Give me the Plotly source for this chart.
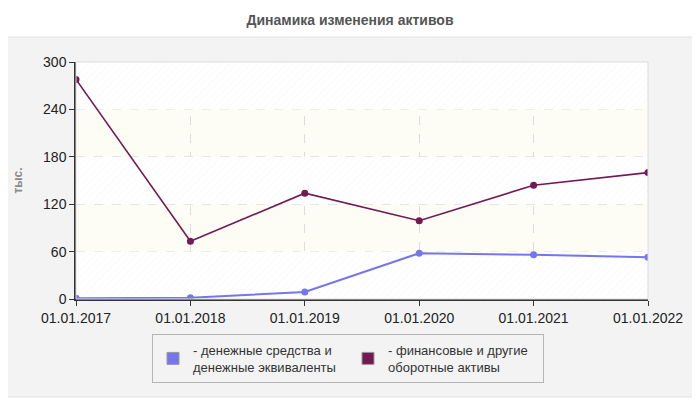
import plotly.graph_objects as go

# chart data
dates = ["01.01.2017", "01.01.2018", "01.01.2019", "01.01.2020", "01.01.2021", "01.01.2022"]
cash = [1, 1.5, 9, 58, 56, 53]
fin_assets = [278, 73, 134, 99, 144, 160]
y_ticks = [0, 60, 120, 180, 240, 300]

series_names = [
    "- денежные средства и<br>денежные эквиваленты",
    "- финансовые и другие<br>оборотные активы",
]
colors = ["#7676ec", "#731a52"]

# the page body has an 8px margin, so work in page pixels and shift back
OFF = 8
L, R, T, B = 76, 648, 62, 299  # plot area in page pixels
def px(x):
    return (x - L) / (R - L)
def py(y):
    return (B - y) / (B - T)

fig = go.Figure()

# hatched bands: 0-60, 120-180, 240-300
for lo, hi in zip(y_ticks[0::2], y_ticks[1::2]):
    fig.add_trace(go.Scatter(
        x=[dates[0], dates[-1], dates[-1], dates[0], dates[0]],
        y=[lo, lo, hi, hi, lo],
        mode="none", fill="toself",
        fillpattern=dict(shape="/", fgcolor="#eeeeee", bgcolor="#ffffff", size=5, solidity=0.15),
        hoverinfo="skip", showlegend=False,
    ))

for name, vals, col, w in zip(series_names, [cash, fin_assets], colors, [2, 1.6]):
    fig.add_trace(go.Scatter(
        x=dates, y=vals, mode="lines+markers", name=name,
        line=dict(color=col, width=w),
        marker=dict(color=col, size=7),
        showlegend=False,
    ))
    # legend swatch
    fig.add_trace(go.Bar(
        x=[None], y=[None], name=name,
        marker=dict(color=col, line=dict(color="#999999", width=1)),
    ))

# gray panel behind the chart
fig.add_shape(
    type="rect", xref="paper", yref="paper",
    x0=px(1), x1=px(699), y0=py(397), y1=py(37),
    fillcolor="#f3f3f3", line=dict(color="#e2e2e2", width=1), layer="below",
)
# pale yellow plot area on top of the panel
fig.add_shape(
    type="rect", xref="paper", yref="paper", x0=0, x1=1, y0=0, y1=1,
    fillcolor="#fdfdf6", line=dict(width=0), layer="below",
)
# light border around plot area
fig.add_shape(
    type="rect", xref="paper", yref="paper", x0=0, x1=1, y0=0, y1=1,
    line=dict(color="#dddddd", width=1), layer="above",
)

fig.update_layout(
    width=700, height=400,
    margin=dict(l=L - OFF, r=700 - (R - OFF), t=T - OFF, b=400 - (B - OFF), autoexpand=False),
    paper_bgcolor="#ffffff",
    plot_bgcolor="#fdfdf6",
    font=dict(family="Liberation Sans, Arial, sans-serif", size=14, color="#222222"),
    title=dict(
        text="<b>Динамика изменения активов</b>",
        x=px(350), xref="paper", xanchor="center",
        y=1 - (20 - OFF) / 400, yanchor="middle",
        font=dict(size=14, color="#555555"),
    ),
    showlegend=True,
    legend=dict(
        orientation="h", x=px(348), xanchor="center", y=py(334), yanchor="top",
        bgcolor="#f3f3f3", bordercolor="#b5b5b5", borderwidth=1,
        font=dict(size=13, color="#333333"),
        entrywidth=150, itemclick=False, itemdoubleclick=False,
    ),
    barmode="overlay",
)
fig.update_xaxes(
    type="category", categoryorder="array", categoryarray=dates,
    range=[0, len(dates) - 1],
    showline=True, linecolor="#333333", linewidth=1.5,
    ticks="outside", tickcolor="#333333", ticklen=5,
    showgrid=True, gridcolor="#dcdcdc", griddash="dash", gridwidth=1,
    tickfont=dict(size=14, color="#222222"),
)
fig.update_yaxes(
    range=[0, 300], tickvals=y_ticks,
    showline=True, linecolor="#333333", linewidth=1.5,
    ticks="outside", tickcolor="#333333", ticklen=5,
    showgrid=True, gridcolor="#dcdcdc", griddash="dash", gridwidth=1,
    zeroline=False,
    tickfont=dict(size=14, color="#222222"),
    title=dict(text="<b>тыс.</b>", font=dict(size=12, color="#8a8a8a"), standoff=18),
)

fig.write_html("out.html")
